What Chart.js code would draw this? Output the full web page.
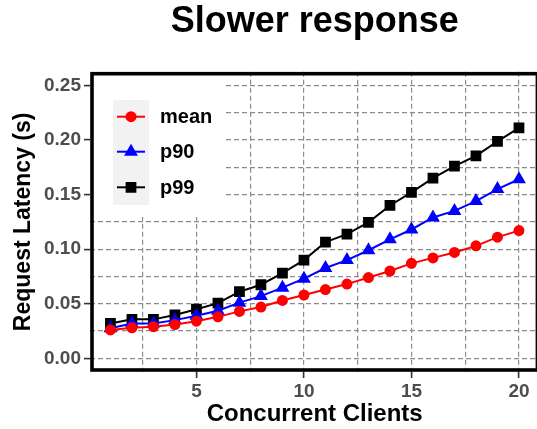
<!DOCTYPE html>
<html>
<head>
<meta charset="utf-8">
<script src="https://cdn.jsdelivr.net/npm/chart.js@4.4.1/dist/chart.umd.min.js"></script>
<style>
  html, body { margin: 0; padding: 0; background: #fff; overflow: hidden; }
  #wrap { width: 537px; height: 429px; overflow: hidden; }
  canvas { display: block; }
</style>
</head>
<body>
<div id="wrap">
<canvas id="myChart" width="560" height="429" style="width:560px;height:429px"></canvas>
</div>
<script>
const clients = [1, 2, 3, 4, 5, 6, 7, 8, 9, 10, 11, 12, 13, 14, 15, 16, 17, 18, 19, 20]
const meanLatency = [0.026, 0.028, 0.029, 0.031, 0.034, 0.038, 0.043, 0.047, 0.053, 0.058,
  0.063, 0.068, 0.074, 0.080, 0.087, 0.092, 0.097, 0.103, 0.111, 0.117]
const p90Latency = [0.0275, 0.032, 0.032, 0.035, 0.039, 0.0436, 0.051, 0.057, 0.0647, 0.073,
  0.0827, 0.090, 0.099, 0.109, 0.118, 0.129, 0.135, 0.144, 0.155, 0.164]
const p99Latency = [0.032, 0.0357, 0.0357, 0.0397, 0.045, 0.0506, 0.061, 0.0674, 0.078, 0.090,
  0.1065, 0.1138, 0.1245, 0.140, 0.152, 0.165, 0.176, 0.1855, 0.1987, 0.211]
const seriesNames = ['mean', 'p90', 'p99']
const xTicks = [2.5, 5, 7.5, 10, 12.5, 15, 17.5, 20]
const xTickLabels = ['5', '10', '15', '20']
const yTicks = [0, 0.025, 0.05, 0.075, 0.1, 0.125, 0.15, 0.175, 0.2, 0.225, 0.25]
const yTickLabels = ['0.00', '0.05', '0.10', '0.15', '0.20', '0.25']

const FONT = "'Liberation Sans', Arial, Helvetica, sans-serif"
const PANEL_RIGHT = 539.4 // panel runs slightly past the right edge of the picture
const toPoints = (ys) => clients.map((x, i) => ({ x: x, y: ys[i] }))

function isMajor(v, labels) {
  return labels.some(l => Math.abs(parseFloat(l) - v) < 1e-9)
}

// legend drawn inside the panel, top-left, over the grid
const insideLegend = {
  id: 'insideLegend',
  beforeDatasetsDraw: function (chart) {
    const ctx = chart.ctx
    const a = chart.chartArea
    ctx.save()
    ctx.fillStyle = '#ffffff'
    ctx.fillRect(a.left, a.top, 226 - a.left, 217 - a.top)
    ctx.fillStyle = '#f2f2f2'
    ctx.fillRect(113, 100, 36, 105)
    const rows = [116.7, 151.7, 187.3]
    chart.data.datasets.forEach(function (ds, i) {
      const y = rows[i]
      ctx.strokeStyle = ds.borderColor
      ctx.lineWidth = 2
      ctx.beginPath()
      ctx.moveTo(117, y)
      ctx.lineTo(145, y)
      ctx.stroke()
      ctx.fillStyle = ds.pointBackgroundColor
      ctx.strokeStyle = ds.pointBorderColor
      Chart.helpers.drawPoint(ctx, { pointStyle: ds.pointStyle, radius: ds.pointRadius, borderWidth: 1 }, 131, y)
      ctx.fillStyle = '#000'
      ctx.font = 'bold 20px ' + FONT
      ctx.textBaseline = 'middle'
      ctx.textAlign = 'left'
      ctx.fillText(ds.label, 160, y + 1)
    })
    ctx.restore()
  },
  afterDraw: function (chart) {
    const ctx = chart.ctx
    const a = chart.chartArea
    ctx.save()
    ctx.strokeStyle = '#000'
    ctx.lineWidth = 3.6
    ctx.strokeRect(a.left + 2, a.top + 2, a.right - a.left - 4, a.bottom - a.top - 4)
    ctx.restore()
  }
}

const ctx = document.getElementById('myChart')

const myChart = new Chart(ctx, {
  type: 'line',
  data: {
    datasets: [
      {
        label: seriesNames[0],
        data: toPoints(meanLatency),
        borderColor: '#ff0000',
        pointBackgroundColor: '#ff0000',
        pointBorderColor: '#ff0000',
        pointStyle: 'circle',
        pointRadius: 4.5,
        borderWidth: 2,
      },
      {
        label: seriesNames[1],
        data: toPoints(p90Latency),
        borderColor: '#0000ff',
        pointBackgroundColor: '#0000ff',
        pointBorderColor: '#0000ff',
        pointStyle: 'triangle',
        pointRadius: 6,
        borderWidth: 2,
      },
      {
        label: seriesNames[2],
        data: toPoints(p99Latency),
        borderColor: '#000000',
        pointBackgroundColor: '#000000',
        pointBorderColor: '#000000',
        pointStyle: 'rect',
        pointRadius: 6.2,
        borderWidth: 2,
      },
    ],
  },
  options: {
    responsive: false,
    animation: false,
    devicePixelRatio: 1,
    layout: { autoPadding: false, padding: { top: 0, right: 20.6, bottom: 0, left: 0 } },
    plugins: {
      legend: { display: false },
      tooltip: { enabled: false },
      title: {
        display: true,
        text: 'Slower response',
        fullSize: false,
        color: '#000',
        font: { family: FONT, size: 36, weight: 'bold', lineHeight: 1.2 },
        padding: { top: 0, bottom: 28.5 },
      },
    },
    scales: {
      x: {
        type: 'linear',
        min: 0.05,
        max: 20.95,
        afterBuildTicks: function (scale) {
          scale.ticks = xTicks.map(v => ({ value: v }))
        },
        afterFit: function (scale) {
          scale.height = 57
          scale.paddingLeft = 0
          scale.paddingRight = 0
        },
        ticks: {
          autoSkip: false,
          maxRotation: 0,
          padding: 2,
          color: '#4d4d4d',
          font: { family: FONT, size: 19, weight: 'bold' },
          callback: function (v) { return isMajor(v, xTickLabels) ? String(v) : '' },
        },
        grid: {
          color: '#8c8c8c',
          lineWidth: 1.2,
          tickLength: 6,
          tickWidth: 1.6,
          tickColor: function (c) { return c.tick && isMajor(c.tick.value, xTickLabels) ? '#333333' : 'rgba(0,0,0,0)' },
        },
        border: { display: false, dash: [5, 3] },
        title: {
          display: true,
          text: 'Concurrent Clients',
          color: '#000',
          font: { family: FONT, size: 24, weight: 'bold', lineHeight: 1.2 },
          padding: { top: 0, bottom: 0 },
        },
      },
      y: {
        type: 'linear',
        min: -0.0125,
        max: 0.2625,
        afterBuildTicks: function (scale) {
          scale.ticks = yTicks.map(v => ({ value: v }))
        },
        afterFit: function (scale) {
          scale.width = 90
          scale.paddingTop = 0
          scale.paddingBottom = 0
        },
        ticks: {
          autoSkip: false,
          padding: 3,
          color: '#4d4d4d',
          font: { family: FONT, size: 19, weight: 'bold' },
          callback: function (v) { return isMajor(v, yTickLabels) ? v.toFixed(2) : '' },
        },
        grid: {
          color: '#8c8c8c',
          lineWidth: 1.2,
          tickLength: 6,
          tickWidth: 1.6,
          tickColor: function (c) { return c.tick && isMajor(c.tick.value, yTickLabels) ? '#333333' : 'rgba(0,0,0,0)' },
        },
        border: { display: false, dash: [5, 3] },
        title: {
          display: true,
          text: 'Request Latency (s)',
          color: '#000',
          font: { family: FONT, size: 23, weight: 'bold', lineHeight: 1.2 },
          padding: { top: 10, bottom: 0 },
        },
      },
    },
  },
  plugins: [insideLegend],
})

// nudge the panel's right edge if the layout left it short
for (let i = 0; i < 3; i++) {
  const gap = PANEL_RIGHT - myChart.chartArea.right
  if (Math.abs(gap) < 0.2) break
  myChart.options.layout.padding.right = Math.max(myChart.options.layout.padding.right - gap, 0)
  myChart.update()
}
</script>
</body>
</html>
